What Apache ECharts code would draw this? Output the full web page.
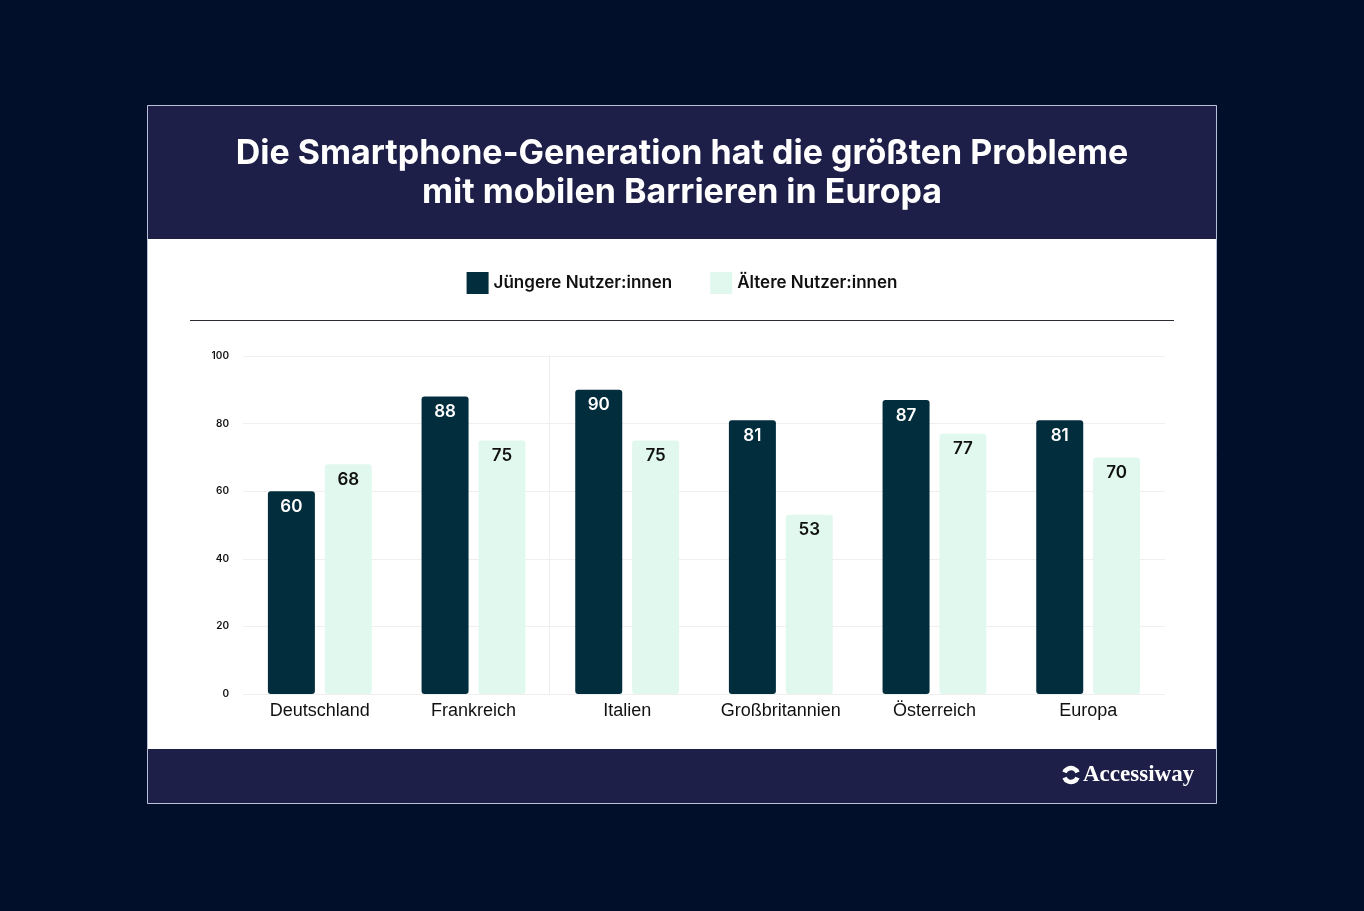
<!DOCTYPE html>
<html>
<head>
<meta charset="utf-8">
<script src="https://cdn.jsdelivr.net/npm/echarts@6/dist/echarts.min.js"></script>
<style>
  html, body { margin: 0; padding: 0; background: #010f2a; }
  #chart { width: 1364px; height: 911px; }
</style>
</head>
<body>
<div id="chart"></div>
<script>
const categories = ['Deutschland', 'Frankreich', 'Italien', 'Großbritannien', 'Österreich', 'Europa'];
const youngerUsers = [60, 88, 90, 81, 87, 81];
const olderUsers = [68, 75, 75, 53, 77, 70];
const seriesNames = ['Jüngere Nutzer:innen', 'Ältere Nutzer:innen'];
const titleLines = ['Die Smartphone-Generation hat die größten Probleme', 'mit mobilen Barrieren in Europa'];

const DARK = '#022d3c';
const LIGHT = '#e1f8ef';
const BAND = '#1e1f48';
const FONT = 'Inter, "Noto Sans", sans-serif';

const myChart = echarts.init(document.getElementById('chart'));

const option = {
  backgroundColor: '#010f2a',
  animation: false,
  textStyle: { fontFamily: FONT },
  graphic: [
    // card + header / footer bands
    { type: 'rect', z: -10, shape: { x: 147.5, y: 105.5, width: 1069, height: 698 },
      style: { fill: '#ffffff', stroke: '#b9c0d8', lineWidth: 1 } },
    { type: 'rect', z: -9, shape: { x: 148, y: 106, width: 1068, height: 133 }, style: { fill: BAND } },
    { type: 'rect', z: -9, shape: { x: 148, y: 749, width: 1068, height: 54 }, style: { fill: BAND } },
    { type: 'text', x: 682, y: 134, style: {
        text: titleLines.join('\n'), fill: '#ffffff', font: 'bold 34px ' + FONT,
        lineHeight: 39, align: 'center', verticalAlign: 'top' } },
    // divider under legend
    { type: 'line', shape: { x1: 190, y1: 320.5, x2: 1174, y2: 320.5 }, style: { stroke: '#2b2b33', lineWidth: 1 } },
    // faint separator seen in the original
    { type: 'line', z: -1, shape: { x1: 549.5, y1: 355, x2: 549.5, y2: 694 }, style: { stroke: '#eeeeee', lineWidth: 1 } },
    // logo
    { type: 'group', x: 1062, y: 765, children: [
        { type: 'arc', shape: { cx: 9, cy: 10, r: 7, startAngle: Math.PI * 1.12, endAngle: Math.PI * 1.88 },
          style: { stroke: '#ffffff', lineWidth: 4.5, fill: null } },
        { type: 'arc', shape: { cx: 9, cy: 10, r: 7, startAngle: Math.PI * 0.12, endAngle: Math.PI * 0.88 },
          style: { stroke: '#ffffff', lineWidth: 4.5, fill: null } },
        { type: 'text', x: 21, y: -1, style: { text: 'Accessiway', fill: '#ffffff',
          font: 'bold 23px "Liberation Serif", "DejaVu Serif", serif' } }
      ] }
  ],
  legend: {
    top: 267,
    left: 'center',
    itemWidth: 22,
    itemHeight: 22,
    itemGap: 38,
    icon: 'rect',
    textStyle: { fontSize: 17, fontWeight: 600, color: '#111111', fontFamily: FONT },
    data: seriesNames
  },
  grid: { left: 243, right: 199, top: 356, bottom: 217, containLabel: false },
  xAxis: {
    type: 'category',
    data: categories,
    axisLine: { show: false },
    axisTick: { show: false },
    axisLabel: { interval: 0, fontSize: 18, color: '#111111', margin: 8,
      fontFamily: '"Liberation Sans", Arial, sans-serif' }
  },
  yAxis: {
    type: 'value',
    min: 0,
    max: 100,
    interval: 20,
    axisLabel: { fontSize: 10, fontWeight: 600, color: '#111111', margin: 14 },
    splitLine: { lineStyle: { color: '#efefef', width: 1 } }
  },
  series: [
    {
      name: seriesNames[0],
      type: 'bar',
      data: youngerUsers,
      barWidth: 47,
      barGap: '21%',
      itemStyle: { color: DARK, borderRadius: 3 },
      label: { show: true, position: 'insideTop', distance: 7, color: '#ffffff',
        fontSize: 17, fontWeight: 600, fontFamily: FONT }
    },
    {
      name: seriesNames[1],
      type: 'bar',
      data: olderUsers,
      barWidth: 47,
      itemStyle: { color: LIGHT, borderRadius: 3 },
      label: { show: true, position: 'insideTop', distance: 7, color: '#111111',
        fontSize: 17, fontWeight: 600, fontFamily: FONT }
    }
  ]
};

option && myChart.setOption(option);
</script>
</body>
</html>
